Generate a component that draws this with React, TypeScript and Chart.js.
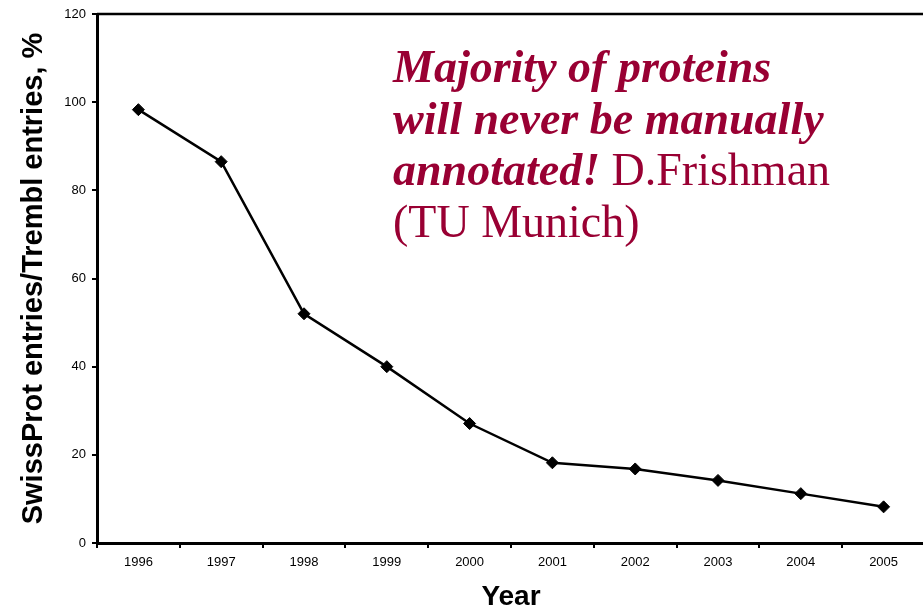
import React, { useEffect, useRef } from "react";
import { Chart, registerables } from "chart.js";

Chart.register(...registerables);

const years = ["1996", "1997", "1998", "1999", "2000", "2001", "2002", "2003", "2004", "2005"];
const ratioPercent = [98.3, 86.5, 52.0, 40.0, 27.1, 18.2, 16.8, 14.2, 11.2, 8.2];
const yMin = 0;
const yMax = 120;
const yStep = 20;

const xTitle = "Year";
const yTitle = "SwissProt entries/Trembl entries, %";

const noteBold = ["Majority of proteins", "will never be manually", "annotated!"];
const noteRegular = [" D.Frishman", "(TU Munich)"];

const SANS = "'Liberation Sans', Arial, sans-serif";
const SERIF = "'Liberation Serif', 'Times New Roman', serif";
const NOTE_COLOR = "#990033";

const framePlugin = {
  id: "frameAndNote",
  afterDraw(chart: any) {
    const { ctx, chartArea } = chart;
    ctx.save();
    // top frame line
    ctx.strokeStyle = "#000";
    ctx.lineWidth = 2.5;
    ctx.beginPath();
    ctx.moveTo(chartArea.left, chartArea.top);
    ctx.lineTo(chartArea.right, chartArea.top);
    ctx.stroke();

    // annotation text
    const x0 = 393;
    const baselines = [82, 133.5, 185, 236.5];
    ctx.fillStyle = NOTE_COLOR;
    ctx.textBaseline = "alphabetic";
    ctx.textAlign = "left";
    const boldFont = `italic bold 46px ${SERIF}`;
    const regFont = `46px ${SERIF}`;
    ctx.font = boldFont;
    ctx.fillText(noteBold[0], x0, baselines[0]);
    ctx.fillText(noteBold[1], x0, baselines[1]);
    ctx.fillText(noteBold[2], x0, baselines[2]);
    const w = ctx.measureText(noteBold[2]).width;
    ctx.font = regFont;
    ctx.fillText(noteRegular[0], x0 + w, baselines[2]);
    ctx.fillText(noteRegular[1], x0, baselines[3]);
    ctx.restore();
  },
};

export default function App() {
  const canvasRef = useRef<HTMLCanvasElement | null>(null);

  useEffect(() => {
    const canvas = canvasRef.current;
    if (!canvas) return;
    const chart = new Chart(canvas, {
      type: "line",
      data: {
        labels: years,
        datasets: [
          {
            data: ratioPercent,
            borderColor: "#000",
            borderWidth: 2.5,
            pointStyle: "rectRot",
            pointRadius: 6,
            pointBackgroundColor: "#000",
            pointBorderColor: "#000",
            pointBorderWidth: 1,
            tension: 0,
          },
        ],
      },
      options: {
        responsive: false,
        animation: false,
        devicePixelRatio: 1,
        layout: { padding: { top: 14, right: 10, bottom: 0, left: 0 } },
        plugins: { legend: { display: false }, tooltip: { enabled: false } },
        scales: {
          x: {
            type: "category",
            offset: true,
            grid: {
              offset: true,
              drawOnChartArea: false,
              drawTicks: true,
              tickLength: 5,
              color: "#000",
              lineWidth: 2,
            },
            border: { display: true, color: "#000", width: 3 },
            ticks: {
              color: "#000",
              font: { family: SANS, size: 13 },
              padding: 7,
              maxRotation: 0,
              autoSkip: false,
            },
            title: {
              display: true,
              text: xTitle,
              color: "#000",
              font: { family: SANS, size: 28, weight: "bold", lineHeight: 1 },
              padding: { top: 0, bottom: 0 },
            },
            afterFit(scale: any) {
              scale.height = 68;
            },
          },
          y: {
            min: yMin,
            max: yMax,
            grid: {
              drawOnChartArea: false,
              drawTicks: true,
              tickLength: 5,
              color: "#000",
              lineWidth: 2,
            },
            border: { display: true, color: "#000", width: 3 },
            ticks: {
              stepSize: yStep,
              color: "#000",
              font: { family: SANS, size: 13 },
              padding: 6,
            },
            title: {
              display: true,
              text: yTitle,
              color: "#000",
              font: { family: SANS, size: 29, weight: "bold", lineHeight: 1 },
              padding: { top: 19, bottom: 0 },
            },
            afterFit(scale: any) {
              scale.width = 97;
            },
          },
        },
      },
      plugins: [framePlugin],
    } as any);
    return () => chart.destroy();
  }, []);

  return (
    <div
      style={{
        position: "fixed",
        left: 0,
        top: 0,
        width: 923,
        height: 611,
        overflow: "hidden",
        background: "#fff",
      }}
    >
      <canvas ref={canvasRef} width={935} height={611} style={{ display: "block" }} />
    </div>
  );
}
